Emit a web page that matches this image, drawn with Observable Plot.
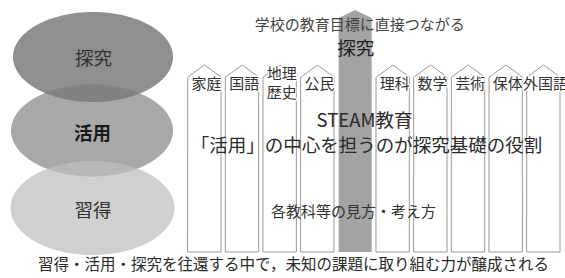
<!DOCTYPE html>
<html>
<head>
<meta charset="utf-8">
<script src="https://cdn.jsdelivr.net/npm/d3@7"></script>
<script src="https://cdn.jsdelivr.net/npm/@observablehq/plot@0.6"></script>
<style>
  html, body { margin: 0; padding: 0; background: #fff; }
  svg { display: block; }
</style>
</head>
<body>
<div id="chart"></div>
<script>
// ---- data ----
const layers = ["探究", "活用", "習得"];
const subjects = ["家庭", "国語", "地理\n歴史", "公民", "探究", "理科", "数学", "芸術", "保体", "外国語"];
const arrowSubject = "探究";
const topNote = "学校の教育目標に直接つながる";
const steamText = "STEAM教育";
const roleText = "「活用」の中心を担うのが探究基礎の役割";
const viewText = "各教科等の見方・考え方";
const caption = "習得・活用・探究を往還する中で，未知の課題に取り組む力が醸成される";

// ---- layout (code, not data) ----
const ellipseGeom = {
  "探究": {cx: 93, cy: 57, rx: 80, ry: 45, fill: "#8f8f8f", op: 1},
  "活用": {cx: 92, cy: 130.5, rx: 81, ry: 46, fill: "#7a7a7a", op: 0.65},
  "習得": {cx: 92.5, cy: 208, rx: 82, ry: 47, fill: "#bebebe", op: 0.72}
};
const labelStyle = {
  "探究": {weight: "normal", fill: "#333", dy: 2},
  "活用": {weight: "bold", fill: "#1a1a1a", dy: 3},
  "習得": {weight: "normal", fill: "#333", dy: 3}
};
const colX0 = 188, colPitch = 37.67, colW = 33, colBottom = 252;
const whiteApex = 65, whiteShoulder = 77, grayApex = 10, grayShoulder = 18;

function ellipsePts(name) {
  const g = ellipseGeom[name];
  const pts = [];
  const n = 160;
  for (let k = 0; k <= n; k++) {
    const t = Math.PI - (Math.PI * k) / n;
    pts.push({layer: name, x: g.cx + g.rx * Math.cos(t), y1: g.cy - g.ry * Math.sin(t), y2: g.cy + g.ry * Math.sin(t)});
  }
  return pts;
}

function columnPts(i, apex, shoulder) {
  const x0 = colX0 + i * colPitch, x1 = x0 + colW, xm = (x0 + x1) / 2;
  return [
    {col: i, x: x0, y1: colBottom, y2: shoulder},
    {col: i, x: xm, y1: colBottom, y2: apex},
    {col: i, x: x1, y1: colBottom, y2: shoulder}
  ];
}

const whiteCols = [];
const grayCols = [];
subjects.forEach((s, i) => {
  if (s === arrowSubject) grayCols.push(...columnPts(i, grayApex, grayShoulder));
  else whiteCols.push(...columnPts(i, whiteApex, whiteShoulder));
});

const colLabels = subjects
  .map((s, i) => ({s, i}))
  .filter(d => d.s !== arrowSubject)
  .map(d => ({text: d.s, x: colX0 + d.i * colPitch + colW / 2 + 1.5, y: 82}));

const arrowIdx = subjects.indexOf(arrowSubject);
const arrowCx = colX0 + arrowIdx * colPitch + colW / 2;

const ellipseMarks = layers.map(name => {
  const g = ellipseGeom[name];
  return Plot.areaY(ellipsePts(name), {x: "x", y1: "y1", y2: "y2", fill: g.fill, fillOpacity: g.op});
});

const labelMarks = layers.map(name => {
  const g = ellipseGeom[name], s = labelStyle[name];
  return Plot.text([name], {
    x: () => g.cx, y: () => g.cy + s.dy, text: d => d,
    fontSize: 18.5, fontWeight: s.weight, fill: s.fill
  });
});

const FONT = "'Noto Sans CJK JP', 'Noto Sans', sans-serif";

const chart = Plot.plot({
  width: 565,
  height: 278,
  margin: 0,
  x: {type: "linear", domain: [0, 565], range: [0, 565], axis: null},
  y: {type: "linear", domain: [0, 278], range: [0, 278], axis: null},
  style: {background: "#fff", fontFamily: FONT},
  marks: [
    ...ellipseMarks,
    ...labelMarks,
    Plot.areaY(whiteCols, {x: "x", y1: "y1", y2: "y2", z: "col", fill: "#fff", stroke: "#9a9a9a", strokeWidth: 1}),
    Plot.areaY(grayCols, {x: "x", y1: "y1", y2: "y2", z: "col", fill: "#a3a3a3"}),
    Plot.text(colLabels, {
      x: "x", y: "y", text: "text", fontSize: 15, fill: "#333",
      lineHeight: 1.27, stroke: "#fff", strokeWidth: 2.5
    }),
    Plot.text([topNote], {x: arrowCx + 4, y: 25, text: d => d, fontSize: 15, fill: "#444"}),
    Plot.text([arrowSubject], {x: arrowCx, y: 49, text: d => d, fontSize: 18.5, fill: "#222"}),
    Plot.text([steamText], {x: 364, y: 121, text: d => d, fontSize: 18.5, fill: "#2a2a2a"}),
    Plot.text([roleText], {x: 366, y: 146, text: d => d, fontSize: 18.5, fill: "#2a2a2a"}),
    Plot.text([viewText], {x: 353, y: 212, text: d => d, fontSize: 15, fill: "#333"}),
    Plot.text([caption], {x: 293, y: 265, text: d => d, fontSize: 15.5, fill: "#2a2a2a"})
  ]
});
document.getElementById("chart").appendChild(chart);
</script>
</body>
</html>
